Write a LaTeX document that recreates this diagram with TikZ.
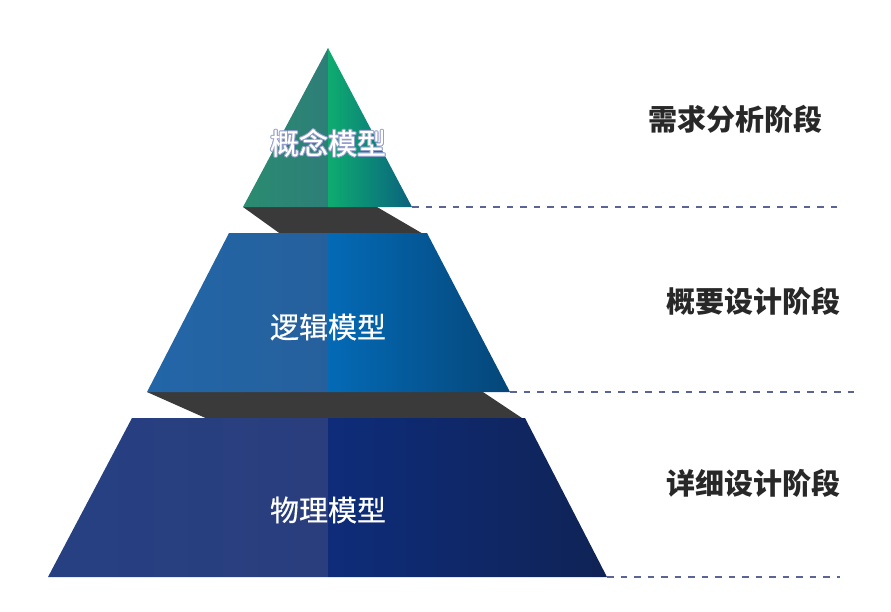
\documentclass[tikz,border=0pt]{standalone}
\usepackage{fontspec}
\newfontfamily\cjk{Noto Sans CJK SC}
\newfontfamily\cjkm[FakeBold=0.5]{Noto Sans CJK SC}
\definecolor{bandc}{RGB}{58,58,58}
\definecolor{gL1}{RGB}{42,140,112}
\definecolor{gL2}{RGB}{46,126,120}
\definecolor{gR1}{RGB}{14,172,112}
\definecolor{gR2}{RGB}{10,98,126}
\definecolor{bL1}{RGB}{34,102,168}
\definecolor{bL2}{RGB}{38,96,156}
\definecolor{bR1}{RGB}{4,106,182}
\definecolor{bR2}{RGB}{5,70,120}
\definecolor{nL1}{RGB}{38,64,130}
\definecolor{nL2}{RGB}{42,62,125}
\definecolor{nR1}{RGB}{14,44,122}
\definecolor{nR2}{RGB}{15,35,85}
\definecolor{guidec}{RGB}{90,100,150}
\definecolor{stagec}{RGB}{40,40,40}
\definecolor{halo}{RGB}{150,160,205}
\newcommand{\halotext}[3]{%
  \foreach \dx/\dy in {1/0,-1/0,0/1,0/-1,0.7/0.7,-0.7/0.7,0.7/-0.7,-0.7/-0.7}{%
    \node[model,text=halo] at ($(#2)+(\dx,\dy)$) {#3};}%
  \node[model] (#1) at (#2) {#3};}
\usetikzlibrary{calc}
\begin{document}
\begin{tikzpicture}[x=1pt,y=-1pt,
  band/.style={fill=bandc},
  guide/.style={draw=guidec,line width=2pt,dash pattern=on 6.5pt off 7pt},
  stage/.style={font=\cjk\bfseries\fontsize{29}{29}\selectfont,text=stagec,inner sep=0pt},
  model/.style={font=\cjkm\fontsize{29}{29}\selectfont,text=white,inner sep=0pt}]
\useasboundingbox (0,0) rectangle (891,611);
% dark connecting bands
\fill[band] (243,207) -- (377,207) -- (425,235) -- (282,235) -- cycle;
\fill[band] (147,392) -- (483,392) -- (525,420) -- (210,420) -- cycle;
% top triangle
\shade[left color=gL1,right color=gL2] (328,48) -- (243,207) -- (328,207) -- cycle;
\shade[left color=gR1,right color=gR2] (328,48) -- (412,207) -- (328,207) -- cycle;
% middle trapezoid
\shade[left color=bL1,right color=bL2] (229,233) -- (328,233) -- (328,392) -- (147,392) -- cycle;
\shade[left color=bR1,right color=bR2] (328,233) -- (427,233) -- (510,392) -- (328,392) -- cycle;
% bottom trapezoid
\shade[left color=nL1,right color=nL2] (132,418) -- (328,418) -- (328,577) -- (48,577) -- cycle;
\shade[left color=nR1,right color=nR2] (328,418) -- (525,418) -- (607,577) -- (328,577) -- cycle;
% guide lines
\coordinate (a1) at (412,207); \coordinate (b1) at (840,207);
\coordinate (a2) at (510,392); \coordinate (b2) at (855,392);
\coordinate (a3) at (607,577); \coordinate (b3) at (840,577);
\draw[guide] (a1) -- (b1);
\draw[guide] (a2) -- (b2);
\draw[guide] (a3) -- (b3);
% labels
\coordinate (p1) at (328,143);
\coordinate (p2) at (328,327);
\coordinate (p3) at (328,510);
\halotext{m1}{p1}{概念模型}
\node[model] (m2) at (p2) {逻辑模型};
\node[model] (m3) at (p3) {物理模型};
\node[stage] (s1) at (735,119) {需求分析阶段};
\node[stage] (s2) at (753,301) {概要设计阶段};
\node[stage] (s3) at (753,483) {详细设计阶段};
\end{tikzpicture}
\end{document}
